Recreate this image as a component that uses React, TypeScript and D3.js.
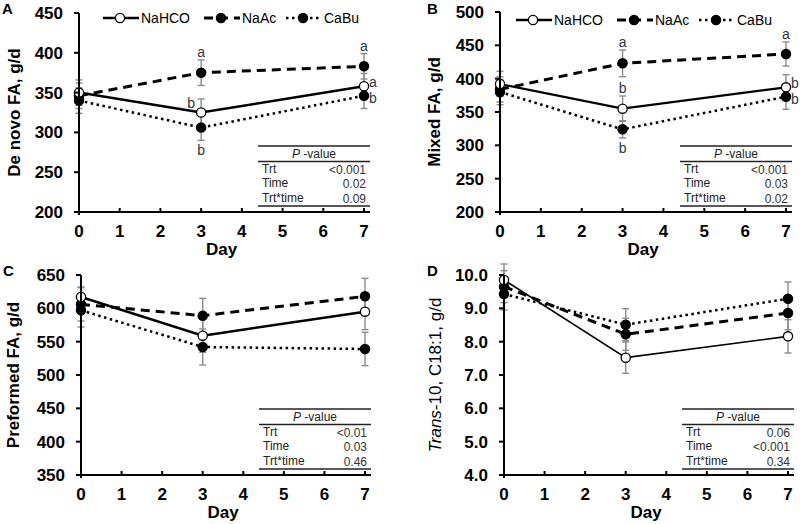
import React from "react";
import * as d3 from "d3";

const FONT = "'Liberation Sans', Arial, Helvetica, sans-serif";

const days = [0, 3, 7];
const dayTicks = [0, 1, 2, 3, 4, 5, 6, 7];
const seriesNames = ["NaHCO", "NaAc", "CaBu"];

// Panel A: De novo FA
const aNaHCO = [350, 325, 358];
const aNaHCOse = [16, 17, 16];
const aNaAc = [346, 375, 383];
const aNaAcse = [16, 16, 16];
const aCaBu = [340, 306, 346];
const aCaBuse = [16, 16, 16];
const aTicks = [200, 250, 300, 350, 400, 450];

// Panel B: Mixed FA
const bNaHCO = [392, 355, 387];
const bNaHCOse = [19, 19, 19];
const bNaAc = [384, 423, 437];
const bNaAcse = [19, 20, 18];
const bCaBu = [380, 324, 373];
const bCaBuse = [19, 13, 19];
const bTicks = [200, 250, 300, 350, 400, 450, 500];

// Panel C: Preformed FA
const cNaHCO = [617, 559, 595];
const cNaHCOse = [15, 25, 27];
const cNaAc = [606, 589, 618];
const cNaAcse = [25, 26, 27];
const cCaBu = [597, 542, 539];
const cCaBuse = [25, 27, 25];
const cTicks = [350, 400, 450, 500, 550, 600, 650];

// Panel D: trans-10 C18:1
const dNaHCO = [9.85, 7.52, 8.16];
const dNaHCOse = [0.48, 0.47, 0.5];
const dNaAc = [9.65, 8.22, 8.86];
const dNaAcse = [0.48, 0.48, 0.5];
const dCaBu = [9.43, 8.51, 9.29];
const dCaBuse = [0.48, 0.48, 0.5];
const dTicks = [4, 5, 6, 7, 8, 9, 10];

const pLabels = ["Trt", "Time", "Trt*time"];
const aP = ["<0.001", "0.02", "0.09"];
const bP = ["<0.001", "0.03", "0.02"];
const cP = ["<0.01", "0.03", "0.46"];
const dP = ["0.06", "<0.001", "0.34"];

// significance letters: [series index, day index, letter, placement]
const aLetters: [number, number, string, string][] = [
  [1, 1, "a", "above"], [0, 1, "b", "left"], [2, 1, "b", "below"],
  [1, 2, "a", "above"], [0, 2, "a", "rightUp"], [2, 2, "b", "rightDown"],
];
const bLetters: [number, number, string, string][] = [
  [1, 1, "a", "above"], [0, 1, "b", "above"], [2, 1, "b", "below"],
  [1, 2, "a", "above"], [0, 2, "b", "rightUp"], [2, 2, "b", "rightDown"],
];

type PanelCfg = {
  letter: string;
  letterX: number;
  letterY: number;
  x0: number;
  x1: number;
  yTop: number;
  yBot: number;
  ticks: number[];
  fmt: (v: number) => string;
  title: React.ReactNode;
  titleX: number;
  vals: number[][];
  ses: number[][];
  pvals: string[];
  legend?: { x: number; y: number };
  letters?: [number, number, string, string][];
  solidWidth: number;
};

const styles = [
  { dash: "none", width: 2.5, filled: false },
  { dash: "9,6", width: 3, filled: true },
  { dash: "2.5,3.5", width: 2.5, filled: true },
];

function Marker({ cx, cy, filled }: { cx: number; cy: number; filled: boolean }) {
  return (
    <circle cx={cx} cy={cy} r={4.6} fill={filled ? "#000" : "#fff"} stroke="#000" strokeWidth={1.3} />
  );
}

function Panel({ cfg }: { cfg: PanelCfg }) {
  const x = d3.scaleLinear().domain([0, 7]).range([cfg.x0, cfg.x1]);
  const y = d3
    .scaleLinear()
    .domain([cfg.ticks[0], cfg.ticks[cfg.ticks.length - 1]])
    .range([cfg.yBot, cfg.yTop]);
  const line = d3
    .line<number>()
    .x((_, i) => x(days[i]))
    .y((v) => y(v));
  const tTop = cfg.yBot - 66;
  const tx0 = cfg.x1 - 106;
  const tx1 = cfg.x1 + 6;
  const midX = (cfg.x0 + cfg.x1) / 2;
  const midY = (cfg.yTop + cfg.yBot) / 2;
  return (
    <g>
      <text x={cfg.letterX} y={cfg.letterY} fontFamily={FONT} fontWeight="bold" fontSize={15}>
        {cfg.letter}
      </text>
      {/* error bars */}
      {cfg.vals.map((vals, s) =>
        vals.map((v, i) => {
          const cx = x(days[i]);
          const yt = y(v + cfg.ses[s][i]);
          const yb = y(v - cfg.ses[s][i]);
          return (
            <g key={`e${s}${i}`} stroke="#8c8c8c" strokeWidth={1.4}>
              <line x1={cx} x2={cx} y1={yt} y2={yb} />
              <line x1={cx - 3.5} x2={cx + 3.5} y1={yt} y2={yt} />
              <line x1={cx - 3.5} x2={cx + 3.5} y1={yb} y2={yb} />
            </g>
          );
        })
      )}
      {/* lines */}
      {cfg.vals.map((vals, s) => (
        <path
          key={`l${s}`}
          d={line(vals) || ""}
          fill="none"
          stroke="#000"
          strokeWidth={s === 0 ? cfg.solidWidth : styles[s].width}
          strokeDasharray={styles[s].dash}
        />
      ))}
      {/* markers: draw filled first then open on top */}
      {[2, 1, 0].map((s) =>
        cfg.vals[s].map((v, i) => (
          <Marker key={`m${s}${i}`} cx={x(days[i])} cy={y(v)} filled={styles[s].filled} />
        ))
      )}
      {/* axes */}
      <line x1={cfg.x0} x2={cfg.x0} y1={cfg.yTop} y2={cfg.yBot + 3} stroke="#000" strokeWidth={2} />
      <line x1={cfg.x0 - 5} x2={cfg.x1 + 6} y1={cfg.yBot} y2={cfg.yBot} stroke="#000" strokeWidth={2} />
      {cfg.ticks.map((t) => (
        <g key={`yt${t}`}>
          <line x1={cfg.x0 - 5} x2={cfg.x0} y1={y(t)} y2={y(t)} stroke="#000" strokeWidth={2} />
          <text
            x={cfg.x0 - 16}
            y={y(t) + 6}
            textAnchor="end"
            fontFamily={FONT}
            fontWeight="bold"
            fontSize={17}
          >
            {cfg.fmt(t)}
          </text>
        </g>
      ))}
      {dayTicks.map((t) => (
        <g key={`xt${t}`}>
          <line x1={x(t)} x2={x(t)} y1={cfg.yBot - 4} y2={cfg.yBot} stroke="#000" strokeWidth={2} />
          <text
            x={x(t)}
            y={cfg.yBot + 25}
            textAnchor="middle"
            fontFamily={FONT}
            fontWeight="bold"
            fontSize={17}
          >
            {t}
          </text>
        </g>
      ))}
      <text x={midX} y={cfg.yBot + 43} textAnchor="middle" fontFamily={FONT} fontWeight="bold" fontSize={17}>
        Day
      </text>
      <text
        transform={`translate(${cfg.titleX},${midY}) rotate(-90)`}
        textAnchor="middle"
        fontFamily={FONT}
        fontWeight="bold"
        fontSize={17}
      >
        {cfg.title}
      </text>
      {/* letters */}
      {(cfg.letters || []).map(([s, i, lab, pos], k) => {
        const v = cfg.vals[s][i];
        const se = cfg.ses[s][i];
        const cx = x(days[i]);
        let tx = cx;
        let ty = y(v);
        let anchor = "middle";
        if (pos === "above") ty = y(v + se) - 3;
        else if (pos === "below") ty = y(v - se) + 15;
        else if (pos === "left") {
          tx = cx - 6;
          ty = y(v) - 5;
          anchor = "end";
        } else if (pos === "rightUp") {
          tx = cx + 5;
          ty = y(v) + 0.5;
          anchor = "start";
        } else {
          tx = cx + 5;
          ty = y(v) + 7.5;
          anchor = "start";
        }
        return (
          <text key={`lt${k}`} x={tx} y={ty} textAnchor={anchor} fontFamily={FONT} fontSize={14} fill="#2f3640">
            {lab}
          </text>
        );
      })}
      {/* p-value table */}
      <g stroke="#222" strokeWidth={1.5}>
        <line x1={tx0} x2={tx1} y1={tTop} y2={tTop} />
        <line x1={tx0} x2={tx1} y1={tTop + 15.5} y2={tTop + 15.5} />
        <line x1={tx0} x2={tx1} y1={tTop + 60} y2={tTop + 60} />
      </g>
      <text x={(tx0 + tx1) / 2} y={tTop + 12} textAnchor="middle" fontFamily={FONT} fontSize={12} fill="#222">
        <tspan fontStyle="italic">P</tspan> -value
      </text>
      {pLabels.map((lab, k) => (
        <g key={`pl${k}`}>
          <text x={tx0 + 4} y={tTop + 26.5 + k * 14.8} fontFamily={FONT} fontSize={12} fill="#222">
            {lab}
          </text>
          <text x={cfg.x1 + 2} y={tTop + 27.5 + k * 14.8} textAnchor="end" fontFamily={FONT} fontSize={12} fill="#333">
            {cfg.pvals[k]}
          </text>
        </g>
      ))}
      {/* legend */}
      {cfg.legend &&
        seriesNames.map((name, s) => {
          const offs = [0, 101, 183];
          const lx = cfg.legend!.x + offs[s];
          const ly = cfg.legend!.y;
          return (
            <g key={`lg${s}`}>
              <line
                x1={lx}
                x2={lx + 36}
                y1={ly}
                y2={ly}
                stroke="#000"
                strokeWidth={s === 0 ? 2.5 : styles[s].width}
                strokeDasharray={styles[s].dash}
              />
              <Marker cx={lx + 17} cy={ly} filled={styles[s].filled} />
              <text x={lx + 38} y={ly + 5} fontFamily={FONT} fontSize={14}>
                {name}
              </text>
            </g>
          );
        })}
    </g>
  );
}

const fmt0 = (v: number) => String(v);
const fmt1 = d3.format(".1f");

const panels: PanelCfg[] = [
  {
    letter: "A", letterX: 2, letterY: 14, x0: 79, x1: 364, yTop: 13, yBot: 212,
    ticks: aTicks, fmt: fmt0, title: "De novo FA, g/d", titleX: 20,
    vals: [aNaHCO, aNaAc, aCaBu], ses: [aNaHCOse, aNaAcse, aCaBuse], pvals: aP,
    legend: { x: 103, y: 18 }, letters: aLetters, solidWidth: 2.5,
  },
  {
    letter: "B", letterX: 427, letterY: 14, x0: 500, x1: 786, yTop: 12, yBot: 212,
    ticks: bTicks, fmt: fmt0, title: "Mixed FA, g/d", titleX: 440,
    vals: [bNaHCO, bNaAc, bCaBu], ses: [bNaHCOse, bNaAcse, bCaBuse], pvals: bP,
    legend: { x: 516, y: 20 }, letters: bLetters, solidWidth: 2.2,
  },
  {
    letter: "C", letterX: 3, letterY: 276, x0: 81, x1: 365, yTop: 275, yBot: 475,
    ticks: cTicks, fmt: fmt0, title: "Preformed FA, g/d", titleX: 19,
    vals: [cNaHCO, cNaAc, cCaBu], ses: [cNaHCOse, cNaAcse, cCaBuse], pvals: cP,
    solidWidth: 2.5,
  },
  {
    letter: "D", letterX: 427, letterY: 276, x0: 504, x1: 788, yTop: 275, yBot: 475,
    ticks: dTicks, fmt: fmt1,
    title: (
      <>
        <tspan fontStyle="italic" fontWeight="normal">Trans</tspan>
        <tspan fontWeight="normal">-10, C18:1, g/d</tspan>
      </>
    ),
    titleX: 441,
    vals: [dNaHCO, dNaAc, dCaBu], ses: [dNaHCOse, dNaAcse, dCaBuse], pvals: dP,
    solidWidth: 1.6,
  },
];

export default function App() {
  return (
    <svg
      width={800}
      height={524}
      viewBox="0 0 800 524"
      style={{ position: "absolute", left: 0, top: 0, background: "#fff" }}
    >
      <rect x={0} y={0} width={800} height={524} fill="#fff" />
      {panels.map((p) => (
        <Panel key={p.letter} cfg={p} />
      ))}
    </svg>
  );
}
